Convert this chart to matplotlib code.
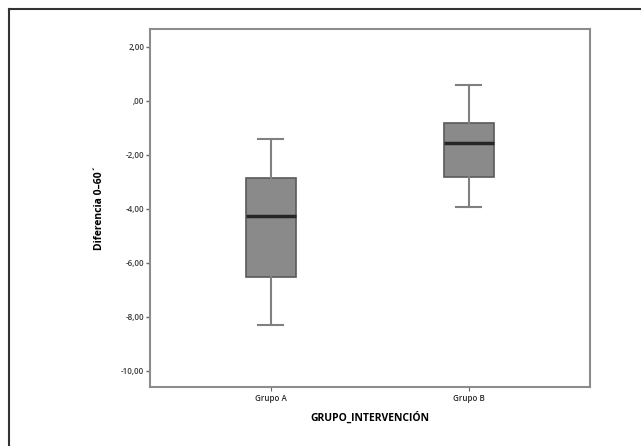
import matplotlib.pyplot as plt
from matplotlib.lines import Line2D

# Box summary values
groups = ['Grupo A', 'Grupo B']
whislo = [-8.30, -3.92]
q1 = [-6.52, -2.83]
med = [-4.27, -1.57]
q3 = [-2.87, -0.83]
whishi = [-1.41, 0.57]
yticks = [2, 0, -2, -4, -6, -8, -10]
ytick_labels = ['2,00', ',00', '-2,00', '-4,00', '-6,00', '-8,00', '-10,00']

plt.rcParams['font.family'] = ['Open Sans', 'DejaVu Sans']

fig = plt.figure(figsize=(6.41, 4.46), dpi=100)
ax = fig.add_axes([0.234, 0.1323, 0.686, 0.803])

stats = []
for i in range(len(groups)):
    stats.append({'label': groups[i], 'whislo': whislo[i], 'q1': q1[i], 'med': med[i],
                  'q3': q3[i], 'whishi': whishi[i], 'fliers': []})

ax.bxp(stats, positions=[1, 2], widths=0.253, patch_artist=True, showfliers=False,
       boxprops=dict(facecolor='#8a8a8a', edgecolor='#5a5a5a', linewidth=1.2),
       medianprops=dict(color='#262626', linewidth=2.5),
       whiskerprops=dict(color='#808080', linewidth=1.5),
       capprops=dict(color='#808080', linewidth=1.5))

ax.set_xlim(0.389, 2.611)
ax.set_ylim(-10.61, 2.67)
ax.set_yticks(yticks)
ax.set_yticklabels(ytick_labels, fontweight='semibold')
ax.set_xticklabels(groups, fontweight='semibold')
ax.tick_params(axis='y', labelsize=5.8, labelcolor='#3a3a3a', length=3, width=1, color='#666666', pad=1)
ax.tick_params(axis='x', labelsize=5.8, labelcolor='#2a2a2a', length=3, width=0.8, color='#666666', pad=2)
for s in ax.spines.values():
    s.set_color('#8c8c8c')
    s.set_linewidth(1.5)

ax.set_ylabel('Diferencia 0–60´', fontsize=7.5, fontweight='bold', labelpad=12)
ax.set_xlabel('GRUPO_INTERVENCIÓN', fontsize=7.5, fontweight='bold', labelpad=6)

# outer frame (only the left and top edges show in the crop)
fig.add_artist(Line2D([9/641, 9/641], [0, 1 - 9/446], transform=fig.transFigure, color='#333333', linewidth=1.5))
fig.add_artist(Line2D([9/641, 1], [1 - 9/446, 1 - 9/446], transform=fig.transFigure, color='#333333', linewidth=1.5))

fig.savefig('out.png', dpi=100)
